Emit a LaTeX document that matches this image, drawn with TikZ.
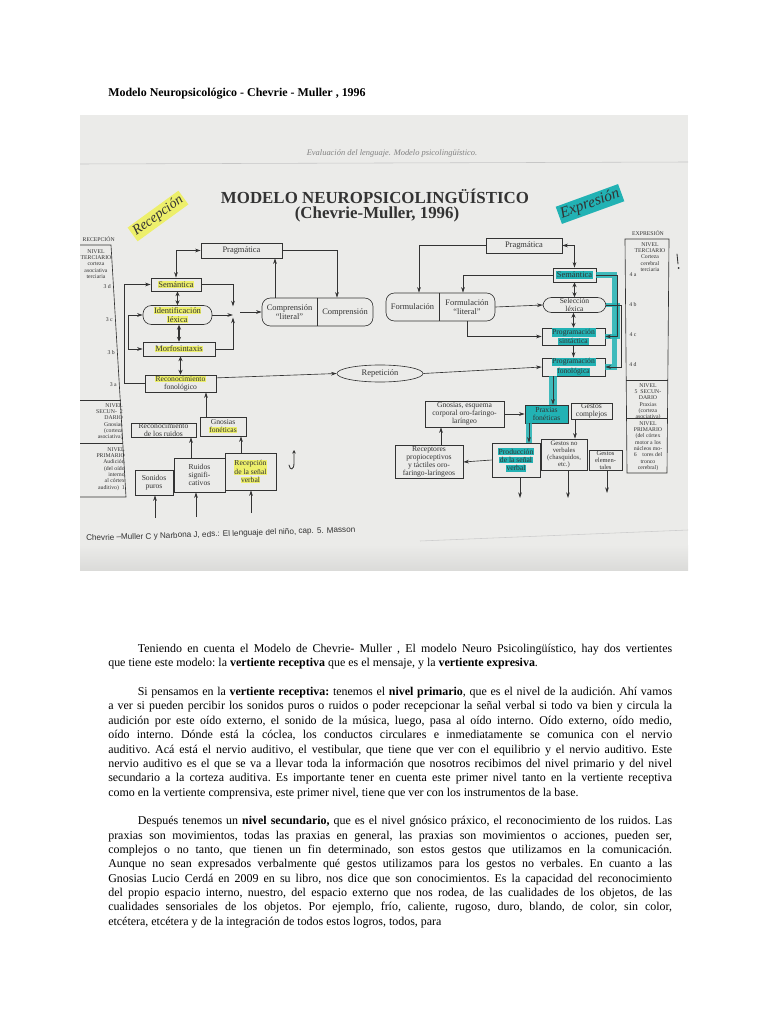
\documentclass[tikz,border=0pt]{standalone}
\usepackage{fontspec}
\setmainfont{Liberation Serif}
\newfontfamily\capfont{Liberation Sans}
\usetikzlibrary{shapes.geometric,arrows.meta}

\definecolor{photobg}{HTML}{EBEBE9}
\definecolor{ink}{HTML}{333333}
\definecolor{hlyellow}{HTML}{EDEF6B}
\definecolor{hlteal}{HTML}{22B2B4}

\newcommand{\dgf}{\fontsize{6}{6.4}\selectfont}
\newcommand{\smf}{\fontsize{5.4}{5.8}\selectfont}
\newcommand{\sbf}{\fontsize{4.1}{4.5}\selectfont}
\newcommand{\bodyf}{\fontsize{8.5}{10.2}\selectfont}
\newcommand{\hly}[1]{{\setlength{\fboxsep}{0.3pt}\colorbox{hlyellow}{#1}}}
\newcommand{\hlt}[1]{{\setlength{\fboxsep}{0.5pt}\colorbox{hlteal}{#1}}}

\tikzset{
  sz/.style 2 args={minimum width=#1*0.025cm, minimum height=#2*0.025cm},
  box/.style={draw=ink, line width=0.45pt, inner sep=0pt, align=center, font=\dgf, text=ink},
  rbox/.style={box, rounded corners=6pt},
  sidetxt/.style={font=\sbf, text=ink, inner sep=0pt, align=center},
  con/.style={draw=ink, line width=0.45pt, -{Stealth[length=4pt, width=2.6pt]}},
  con2/.style={con, {Stealth[length=4pt, width=2.6pt]}-{Stealth[length=4pt, width=2.6pt]}},
  dcon/.style={draw=ink, line width=0.8pt, {Stealth[length=3.5pt, width=3pt]}-{Stealth[length=3.5pt, width=3pt]}},
  tealband/.style={hlteal, line width=4pt, opacity=0.85},
  pen/.style={ink, line width=0.6pt, line cap=round},
}

\begin{document}
\begin{tikzpicture}[x=0.025cm, y=-0.025cm]
\useasboundingbox (0,0) rectangle (768,1024);
\fill[white] (0,0) rectangle (768,1024);

\node[anchor=base west, inner sep=0pt, font=\bodyf\bfseries] (title) at (108,97) {Modelo Neuropsicológico - Chevrie - Muller , 1996};

% photo of the model
\begin{scope}
\clip (80,115) rectangle (688,570);
\fill[photobg] (80,115) rectangle (688,570);
\shade[top color=photobg, bottom color=photobg!85!gray] (80,545) rectangle (688,570);
\draw[gray!45, line width=0.4pt] (80,164) -- (688,162);
\draw[gray!40, line width=0.4pt] (420,541) -- (688,530);

\node[font=\fontsize{6}{7}\selectfont\itshape, text=gray] (hdr) at (392,153) {Evaluación del lenguaje. Modelo psicolingüístico.};
\node[font=\fontsize{12}{13}\selectfont\bfseries, text=ink] (mtitle) at (375,196) {MODELO NEUROPSICOLINGÜÍSTICO};
\node[font=\fontsize{12}{13}\selectfont\bfseries, text=ink] (msub) at (377,214) {(Chevrie-Muller, 1996)};
\node[fill=hlyellow, rotate=36, inner sep=1.5pt, font=\fontsize{10}{10}\selectfont\itshape, text=ink] (hwrec) at (158,216) {Recepción};
\node[fill=hlteal, rotate=20, inner sep=1.5pt, font=\fontsize{11}{11}\selectfont\itshape, text=ink] (hwexp) at (590,204) {Expresión};
\draw[pen, -{Stealth[length=2.5pt, width=2.5pt]}] (289,465) .. controls (290,471) and (294,470) .. (294,463) -- (294,450);
\draw[pen] (677,254) -- (678,264);
\fill[ink] (678.5,268) circle (1);

% left side bar
\draw[ink, line width=0.45pt] (80,245) -- (111,245) -- (126,497) -- (80,497);
\draw[ink, line width=0.45pt] (80,400) -- (121,400);
\draw[ink, line width=0.45pt] (80,443) -- (123,443);
\node[sidetxt, anchor=east] (recl) at (115,239) {RECEPCIÓN};
\node[sidetxt, anchor=north] (ter3) at (96,249) {NIVEL\\TERCIARIO\\corteza\\asociativa\\terciaria};
\node[sidetxt, anchor=east] (L3d) at (111,287) {3 d};
\node[sidetxt, anchor=east] (L3c) at (113,320) {3 c};
\node[sidetxt, anchor=east] (L3b) at (115,353) {3 b};
\node[sidetxt, anchor=east] (L3a) at (117,385) {3 a};
\node[sidetxt, anchor=north east, align=right] (sec2) at (123,403) {NIVEL\\SECUN-\enspace 2\\DARIO\\Gnosias\\(corteza\\asociativa)};
\node[sidetxt, anchor=north east, align=right] (pri1) at (125,447) {NIVEL\\PRIMARIO\\Audición\\(del oído\\interno\\al córtex\\auditivo)\enspace 1};

% right side bar
\draw[ink, line width=0.45pt] (625,239) -- (669,239) -- (667,473) -- (627,473) -- cycle;
\draw[ink, line width=0.45pt] (626,380) -- (668,380);
\draw[ink, line width=0.45pt] (626,418) -- (668,418);
\node[sidetxt] (expl) at (648,233) {EXPRESIÓN};
\node[sidetxt, anchor=north] (ter4) at (650,242) {NIVEL\\TERCIARIO\\Corteza\\cerebral\\terciaria};
\node[sidetxt] (R4a) at (633,275) {4 a};
\node[sidetxt] (R4b) at (633,305) {4 b};
\node[sidetxt] (R4c) at (633,335) {4 c};
\node[sidetxt] (R4d) at (633,365) {4 d};
\node[sidetxt, anchor=north] (sec5) at (648,383) {NIVEL\\5\enspace SECUN-\\DARIO\\Praxias\\(corteza\\asociativa)};
\node[sidetxt, anchor=north] (pri6) at (648,421) {NIVEL\\PRIMARIO\\(del córtex\\motor a los\\núcleos mo-\\6\quad tores del\\tronco\\cerebral)};

% reception
\node[box, sz={81}{15}] (PragL) at (241.5,250.5) {Pragmática};
\node[box, sz={50}{13}] (SemL) at (176,284.5) {\hly{Semántica}};
\node[rbox, sz={69}{19}] (IdLex) at (177.5,315) {\hly{Identificación}\\\hly{léxica}};
\node[box, sz={72}{14}] (Morf) at (179,349) {\hly{Morfosintaxis}};
\node[box, sz={71}{17}, font=\smf] (RecFon) at (180.5,383.5) {\hly{Reconocimiento}\\fonológico};
\node[rbox, sz={111}{28}] (Comp) at (317.5,312) {};
\node[box, draw=none] (CompA) at (289.5,312) {Comprensión\\``literal''};
\node[box, draw=none] (CompB) at (345,312) {Comprensión};
\node[ellipse, draw=ink, line width=0.45pt, sz={86}{17}, inner sep=0pt, font=\dgf, text=ink] (Rep) at (380,373.5) {Repetición};
\node[box, sz={65}{14}, font=\smf] (RecRuid) at (163.5,430) {Reconocimiento\\de los ruidos};
\node[box, sz={46}{19}, font=\smf] (GnFon) at (223,426.5) {Gnosias\\\hly{fonéticas}};
\node[box, sz={38}{25}, font=\smf] (Son) at (154,482.5) {Sonidos\\puros};
\node[box, sz={51}{34}, font=\smf] (Ruid) at (199.5,475) {Ruidos\\signifi-\\cativos};
\node[box, sz={51}{37}, font=\smf] (RecSen) at (250.5,471.5) {\hly{Recepción}\\\hly{de la señal}\\\hly{verbal}};

% expression
\node[box, sz={76}{15}] (PragR) at (524,245.5) {Pragmática};
\node[box, sz={43}{14}] (SemR) at (574.5,275) {\hlt{Semántica}};
\node[rbox, sz={109}{28}] (Form) at (440.5,307) {};
\node[box, draw=none] (FormA) at (412.5,307) {Formulación};
\node[box, draw=none] (FormB) at (467,307) {Formulación\\``literal''};
\node[rbox, sz={63}{15}, font=\smf] (SelLex) at (574.5,305) {Selección\\léxica};
\node[box, sz={63}{17}, font=\smf] (ProgSin) at (573.5,336.5) {\hlt{Programación}\\\hlt{sintáctica}};
\node[box, sz={63}{16}, font=\smf] (ProgFon) at (573.5,367) {\hlt{Programación}\\\hlt{fonológica}};
\node[box, sz={79}{26}, font=\smf] (GnosCorp) at (464.5,414) {Gnosias, esquema\\corporal oro-faringo-\\laríngeo};
\node[box, sz={43}{18}, font=\smf, fill=hlteal] (Prax) at (546.5,414) {Praxias\\fonéticas};
\node[box, sz={41}{16}, font=\smf] (GestC) at (591.5,411) {Gestos\\complejos};
\node[box, sz={68}{33}, font=\smf] (Recep) at (429,462) {Receptores\\propioceptivos\\y táctiles oro-\\faringo-laríngeos};
\node[box, sz={48}{34}, font=\smf] (Prod) at (516,460) {\hlt{Producción}\\\hlt{de la señal}\\\hlt{verbal}};
\node[box, sz={46}{31}, font=\fontsize{4.8}{5.2}\selectfont] (GestNV) at (564,454.5) {Gestos no\\verbales\\(chasquidos,\\etc.)};
\node[box, sz={33}{20}, font=\fontsize{4.6}{5}\selectfont] (GestE) at (605.5,460) {Gestos\\elemen-\\tales};

\coordinate (J) at (233,312);
\coordinate (divC) at (317,0);
\coordinate (divF) at (439,0);
\coordinate (cCP) at (275,0);
\coordinate (cPC) at (337,0);
\coordinate (cRF) at (206,0);
\coordinate (cRR) at (191,0);
\coordinate (cGF) at (241,0);
\coordinate (cFA) at (419,0);
\coordinate (cFB) at (463,0);
\coordinate (cFS) at (467,0);
\coordinate (cPP) at (553,0);
\coordinate (cPX) at (529,0);
\coordinate (cRG) at (441,0);
\coordinate (cGG) at (575,0);
\coordinate (inSon) at (155,518);
\coordinate (inRuid) at (196,517);
\coordinate (inRec) at (251,513);
\coordinate (outProd) at (520,498);
\coordinate (outGNV) at (568,498);
\coordinate (outGE) at (607,493);

\draw[tealband] (SemR.east) -- ++(18,0) |- (ProgFon.east);
\draw[tealband, line width=3pt] (SelLex.east) -- ++(12,0) |- (ProgSin.east);
\draw[tealband, line width=5pt] (ProgFon.south -| cPP) -- (Prax.north -| cPP);
\draw[tealband] (Prax.south -| cPX) -- (Prod.north -| cPX);

\draw[ink, line width=0.45pt] (Comp.north -| divC) -- (Comp.south -| divC);
\draw[ink, line width=0.45pt] (Form.north -| divF) -- (Form.south -| divF);

\draw[con2] (SemL.north) |- (PragL.west);
\draw[con] (PragL.east) -| (Comp.north -| cPC);
\draw[con] (Comp.north -| cCP) -- (PragL.south -| cCP);
\draw[con, shorten >=4pt] (SemL.east) -| (J);
\draw[con, shorten >=4pt] (Morf.east) -| (J);
\draw[con] (IdLex.east) -- (IdLex.east -| J);
\draw[con, shorten <=5pt] (J) -- (Comp.west);
\draw[dcon] (IdLex.north |- SemL.south) -- (IdLex.north);
\draw[dcon] (Morf.north |- IdLex.south) -- (Morf.north);
\draw[dcon] (RecFon.north |- Morf.south) -- (RecFon.north);
\draw[con] (RecFon.west) -- ++(-20,0) |- (SemL.west);
\draw[con2] (IdLex.west) -- ++(-14,0) |- (Morf.west);
\draw[con] ([yshift=4pt]RecFon.east) -- (Rep.west);
\draw[con] (Rep.east) -- (ProgFon.west);
\draw[con] (GnFon.north -| cRF) -- (RecFon.south -| cRF);
\draw[con] (Ruid.north -| cRR) -- (RecRuid.south -| cRR);
\draw[con] (RecSen.north -| cGF) -- (GnFon.south -| cGF);
\draw[con] (inSon) -- (inSon |- Son.south);
\draw[con] (inRuid) -- (inRuid |- Ruid.south);
\draw[con] (inRec) -- (inRec |- RecSen.south);

\draw[con2] (SemR.north) |- (PragR.east);
\draw[con] (PragR.west) -| (Form.north -| cFA);
\draw[con] (SemR.west) -| (Form.north -| cFB);
\draw[con] (Form.east) -- (SelLex.west);
\draw[con] (Form.south -| cFS) |- (ProgSin.west);
\draw[dcon] (SelLex.north |- SemR.south) -- (SelLex.north);
\draw[dcon] (ProgSin.north |- SelLex.south) -- (ProgSin.north);
\draw[con] (ProgFon.north |- ProgSin.south) -- (ProgFon.north);
\draw[con] (SemR.east) -- ++(21,0) |- (ProgSin.east);
\draw[con] (SelLex.east) -- ++(15,0) |- (ProgFon.east);
\draw[con] (ProgFon.south -| cPP) -- (Prax.north -| cPP);
\draw[con] (GnosCorp.east) -- (Prax.west);
\draw[con] (Recep.north -| cRG) -- (GnosCorp.south -| cRG);
\draw[con] (Prod.west) -- (Recep.east);
\draw[con] (Prax.south -| cPX) -- (Prod.north -| cPX);
\draw[con] (GestC.south -| cGG) -- (GestNV.north -| cGG);
\draw[con] (Prod.south -| outProd) -- (outProd);
\draw[con] (GestNV.south -| outGNV) -- (outGNV);
\draw[con] (GestE.south -| outGE) -- (outGE);

\node[anchor=base west, rotate=1.9, inner sep=0pt, font=\capfont\fontsize{5.8}{6}\selectfont, text=ink] (cap) at (86,541) {Chevrie –Muller C y Narbona J, eds.: El lenguaje del niño, cap. 5. Masson};
\end{scope}

% text below the picture
\node[anchor=north west, inner sep=0pt, text width=401pt, align=justify, font=\bodyf\frenchspacing] (body) at (108,644) {%
\hspace*{21pt}Teniendo en cuenta el Modelo de Chevrie- Muller , El modelo Neuro Psicolingüístico, hay dos vertientes\linebreak
que tiene este modelo: la \textbf{vertiente receptiva} que es el mensaje, y la \textbf{vertiente expresiva}.\\[10.2pt]
\hspace*{21pt}Si pensamos en la \textbf{vertiente receptiva:} tenemos el \textbf{nivel primario}, que es el nivel de la audición. Ahí vamos\linebreak
a ver si pueden percibir los sonidos puros o ruidos o poder recepcionar la señal verbal si todo va bien y circula la\linebreak
audición por este oído externo, el sonido de la música, luego, pasa al oído interno. Oído externo, oído medio,\linebreak
oído interno. Dónde está la cóclea, los conductos circulares e inmediatamente se comunica con el nervio\linebreak
auditivo. Acá está el nervio auditivo, el vestibular, que tiene que ver con el equilibrio y el nervio auditivo. Este\linebreak
nervio auditivo es el que se va a llevar toda la información que nosotros recibimos del nivel primario y del nivel\linebreak
secundario a la corteza auditiva. Es importante tener en cuenta este primer nivel tanto en la vertiente receptiva\linebreak
como en la vertiente comprensiva, este primer nivel, tiene que ver con los instrumentos de la base.\\[10.2pt]
\hspace*{21pt}Después tenemos un \textbf{nivel secundario,} que es el nivel gnósico práxico, el reconocimiento de los ruidos. Las\linebreak
praxias son movimientos, todas las praxias en general, las praxias son movimientos o acciones, pueden ser,\linebreak
complejos o no tanto, que tienen un fin determinado, son estos gestos que utilizamos en la comunicación.\linebreak
Aunque no sean expresados verbalmente qué gestos utilizamos para los gestos no verbales. En cuanto a las\linebreak
Gnosias Lucio Cerdá en 2009 en su libro, nos dice que son conocimientos. Es la capacidad del reconocimiento\linebreak
del propio espacio interno, nuestro, del espacio externo que nos rodea, de las cualidades de los objetos, de las\linebreak
cualidades sensoriales de los objetos. Por ejemplo, frío, caliente, rugoso, duro, blando, de color, sin color,\linebreak
etcétera, etcétera y de la integración de todos estos logros, todos, para};
\end{tikzpicture}
\end{document}
